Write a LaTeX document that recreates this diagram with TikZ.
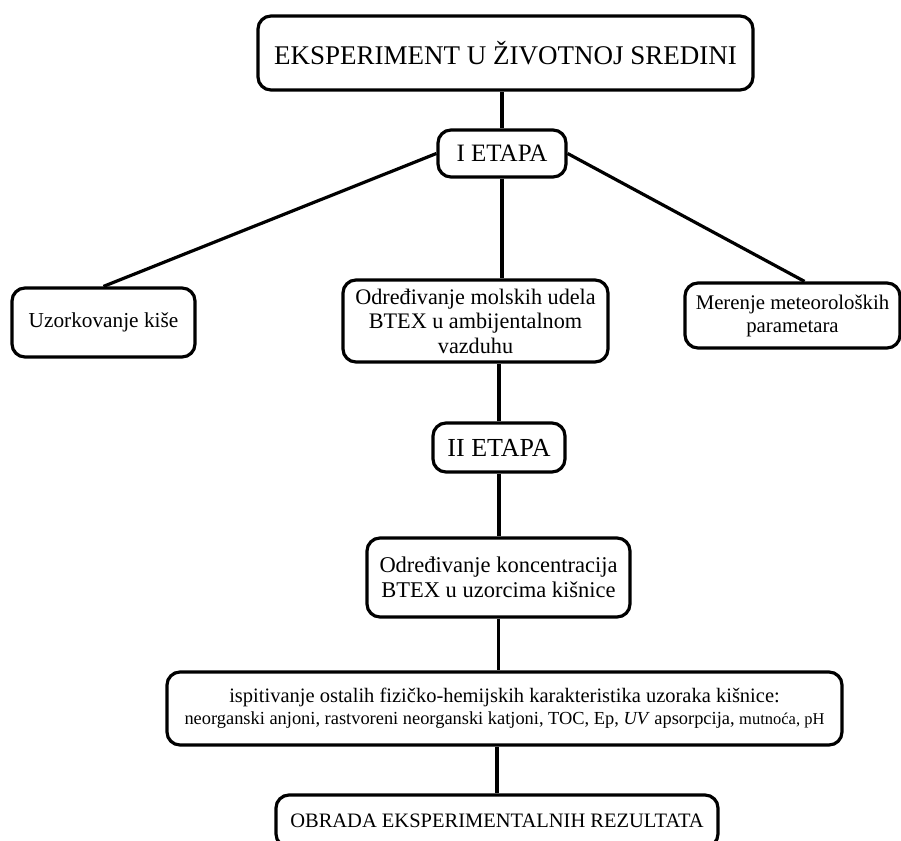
\documentclass[tikz,border=0pt]{standalone}
\usepackage{fontspec}
\setmainfont{Liberation Serif}
\usepackage{tikz}

\newcommand{\vel}[2]{\fontsize{#1}{#2}\selectfont}

\begin{document}
\begin{tikzpicture}[x=1pt, y=-1pt,
    okvir/.style={draw, line width=3.2pt, rounded corners=13pt, inner sep=0pt, align=center},
    veza/.style={line width=3.2pt}]
    \useasboundingbox (0,0) rectangle (901,840);
    \clip (0,0) rectangle (901,840);
      % Eksperiment
      \node[okvir, minimum width=495pt, minimum height=74pt, font=\vel{27}{30}] (eksp) at (505.5,53) {EKSPERIMENT U ŽIVOTNOJ SREDINI};
      % I etapa
      \node[okvir, minimum width=128pt, minimum height=47pt, font=\vel{25}{28}] (etapa1) at (502,153.5) {I ETAPA};
      \node[okvir, minimum width=183pt, minimum height=69pt, font=\vel{21.3}{24}] (kisa) at (103.5,322.5) {Uzorkovanje kiše};
      \node[okvir, minimum width=265pt, minimum height=82pt, font=\vel{22.2}{24.5}] (btex) at (475.5,321) {Određivanje molskih udela\\BTEX u ambijentalnom\\vazduhu};
      \node[okvir, minimum width=215pt, minimum height=65pt, font=\vel{20.8}{23}] (meteo) at (792.5,315.5) {Merenje meteoroloških\\parametara};
      % II etapa
      \node[okvir, minimum width=132pt, minimum height=49pt, font=\vel{26}{29}] (etapa2) at (499,447.5) {II ETAPA};
      \node[okvir, minimum width=263pt, minimum height=79pt, font=\vel{22.5}{25}] (konc) at (498.5,577.5) {Određivanje koncentracija\\BTEX u uzorcima kišnice};
      \node[okvir, minimum width=675pt, minimum height=73pt, font=\vel{20.5}{22}] (ostalo) at (504.5,708.5) {ispitivanje ostalih fizičko-hemijskih karakteristika uzoraka kišnice:\\{\vel{18.4}{22}neorganski anjoni, rastvoreni neorganski katjoni, TOC, Ep, \textit{UV} apsorpcija, {\vel{16.5}{22}mutnoća, pH}}};
      \node[okvir, minimum width=442pt, minimum height=52pt, font=\vel{20.5}{23}] (obrada) at (497,821) {OBRADA EKSPERIMENTALNIH REZULTATA};

      % Veze
      \draw[veza] (etapa1.north) -- (etapa1.north |- eksp.south);
      \draw[veza] (etapa1.west) -- (kisa.north);
      \draw[veza] (etapa1.east) -- ([xshift=12pt]meteo.north);
      \draw[veza] (etapa1.south) -- (etapa1.south |- btex.north);
      \draw[veza] (etapa2.north) -- (etapa2.north |- btex.south);
      \draw[veza] (etapa2.south) -- (etapa2.south |- konc.north);
      \draw[veza] (konc.south) -- (konc.south |- ostalo.north);
      \draw[veza] (obrada.north) -- (obrada.north |- ostalo.south);
\end{tikzpicture}
\end{document}
